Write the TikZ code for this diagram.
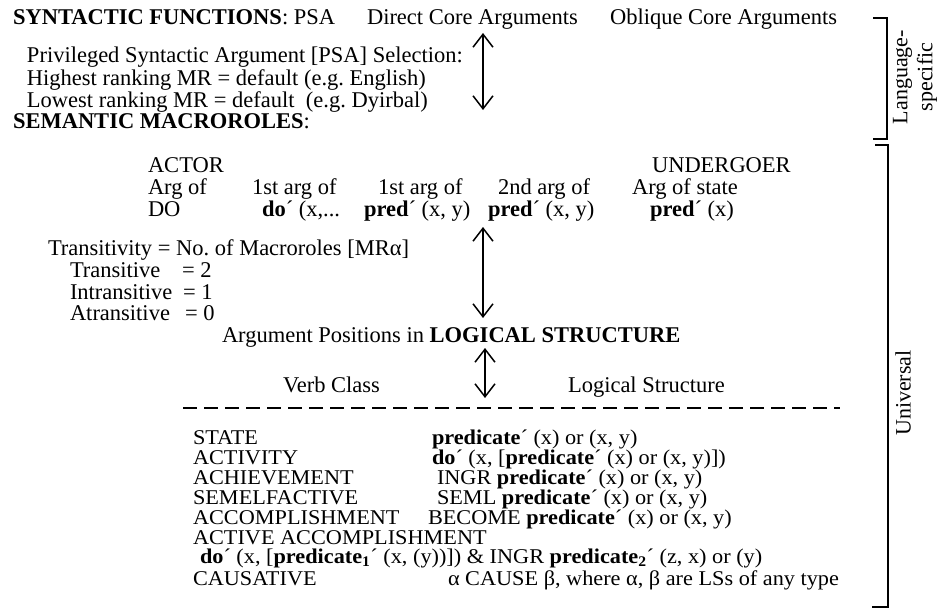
\documentclass[tikz,border=0pt]{standalone}
\usepackage{fontspec}
\setmainfont{Liberation Serif}
\newfontfamily\listfont[FakeStretch=1.06]{Liberation Serif}
\usetikzlibrary{arrows.meta}
\tikzstyle{line_text} = [
    anchor=base west,
    inner sep=0pt,
    outer sep=0pt
]
\tikzstyle{list_text} = [
    line_text,
    font=\listfont\fontsize{21}{20}\selectfont
]
\tikzstyle{side_text} = [
    rotate=90,
    align=center,
    inner sep=0pt,
    font=\fontsize{22}{25}\selectfont
]
\tikzstyle{link_arrow} = [
    {Straight Barb[length=13pt,width=20pt]}-{Straight Barb[length=13pt,width=20pt]},
    line width=1.5pt
]
\tikzstyle{bracket} = [
    line width=1.5pt
]
\tikzstyle{rule_line} = [
    line width=1.5pt,
    dash pattern=on 14pt off 7pt
]

\begin{document}
\begin{tikzpicture}[
    x=1pt, y=-1pt,
    font=\fontsize{22.5}{24}\selectfont
]
\useasboundingbox (0,0) rectangle (939,610);

% syntactic functions
\node [line_text] (synfun) at (13,25) {\textbf{SYNTACTIC FUNCTIONS}: PSA};
\node [line_text] (direct) at (367,25) {Direct Core Arguments};
\node [line_text] (oblique) at (610,25) {Oblique Core Arguments};
\node [line_text] (psa_sel) at (27,63) {Privileged Syntactic Argument [PSA] Selection:};
\node [line_text] (psa_high) at (27,85) {Highest ranking MR = default (e.g.\ English)};
\node [line_text] (psa_low) at (27,107) {Lowest ranking MR = default\ \ (e.g.\ Dyirbal)};
\coordinate (psa_top) at (483,33);
\coordinate (psa_bottom) at (483,110);
\draw [link_arrow] (psa_top) -- (psa_bottom);

% semantic macroroles
\node [line_text] (semmr) at (13,128) {\textbf{SEMANTIC MACROROLES}:};
\node [line_text] (actor) at (148,172) {ACTOR};
\node [line_text] (undergoer) at (652,172) {UNDERGOER};
\node [line_text] (arg_do) at (148,194) {Arg of};
\node [line_text] (arg_act) at (252,194) {1st arg of};
\node [line_text] (arg_first) at (378,194) {1st arg of};
\node [line_text] (arg_second) at (498,194) {2nd arg of};
\node [line_text] (arg_state) at (632,194) {Arg of state};
\node [line_text] (ls_do) at (148,216) {DO};
\node [line_text] (ls_act) at (262,216) {\textbf{do}´ (x,...};
\node [line_text] (ls_first) at (364,216) {\textbf{pred}´ (x, y)};
\node [line_text] (ls_second) at (488,216) {\textbf{pred}´ (x, y)};
\node [line_text] (ls_state) at (650,216) {\textbf{pred}´ (x)};

% transitivity
\node [line_text] (trans) at (48,255) {Transitivity = No.\ of Macroroles [MRα]};
\node [line_text] (trans_two) at (70,277) {Transitive};
\node [line_text] (trans_two_val) at (182,277) {= 2};
\node [line_text] (trans_one) at (70,299) {Intransitive};
\node [line_text] (trans_one_val) at (183,299) {= 1};
\node [line_text] (trans_zero) at (70,320) {Atransitive};
\node [line_text] (trans_zero_val) at (185,320) {= 0};
\coordinate (mr_top) at (483,227);
\coordinate (mr_bottom) at (483,318);
\draw [link_arrow] (mr_top) -- (mr_bottom);

% logical structure
\node [line_text] (argpos) at (222,342) {Argument Positions in \textbf{LOGICAL STRUCTURE}};
\coordinate (ls_top) at (485,348);
\coordinate (ls_bottom) at (485,398);
\draw [link_arrow] (ls_top) -- (ls_bottom);
\node [line_text] (verb_class) at (283,392) {Verb Class};
\node [line_text] (log_struct) at (568,392) {Logical Structure};
\coordinate (rule_left) at (183,408);
\coordinate (rule_right) at (840,408);
\draw [rule_line] (rule_left) -- (rule_right);

\node [list_text] (vc_state) at (193,444) {STATE};
\node [list_text] (lsx_state) at (432,444) {\textbf{predicate}´ (x) or (x, y)};
\node [list_text] (vc_activity) at (193,464) {ACTIVITY};
\node [list_text] (lsx_activity) at (432,464) {\textbf{do}´ (x, [\textbf{predicate}´ (x) or (x, y)])};
\node [list_text] (vc_achieve) at (193,484) {ACHIEVEMENT};
\node [list_text] (lsx_achieve) at (437,484) {INGR \textbf{predicate}´ (x) or (x, y)};
\node [list_text] (vc_semel) at (193,504) {SEMELFACTIVE};
\node [list_text] (lsx_semel) at (437,504) {SEML \textbf{predicate}´ (x) or (x, y)};
\node [list_text] (vc_accomp) at (193,524) {ACCOMPLISHMENT};
\node [list_text] (lsx_accomp) at (428,524) {BECOME \textbf{predicate}´ (x) or (x, y)};
\node [list_text] (vc_active) at (193,544) {ACTIVE ACCOMPLISHMENT};
\node [list_text] (lsx_active) at (200,563) {\textbf{do}´ (x, [\textbf{predicate\textsubscript{1}}´ (x, (y))]) \& INGR \textbf{predicate\textsubscript{2}}´ (z, x) or (y)};
\node [list_text] (vc_cause) at (193,585) {CAUSATIVE};
\node [list_text] (lsx_cause) at (448,585) {α CAUSE β, where α, β are LSs of any type};

% brackets
\draw [bracket] (873,18) -- (887,18) -- (887,139) -- (873,139);
\draw [bracket] (875,145) -- (888,145) -- (888,607) -- (872,607);
\node [side_text] (lang_spec) at (915,77) {Language-\\specific};
\node [side_text] (universal) at (903,393) {Universal};
\end{tikzpicture}
\end{document}
